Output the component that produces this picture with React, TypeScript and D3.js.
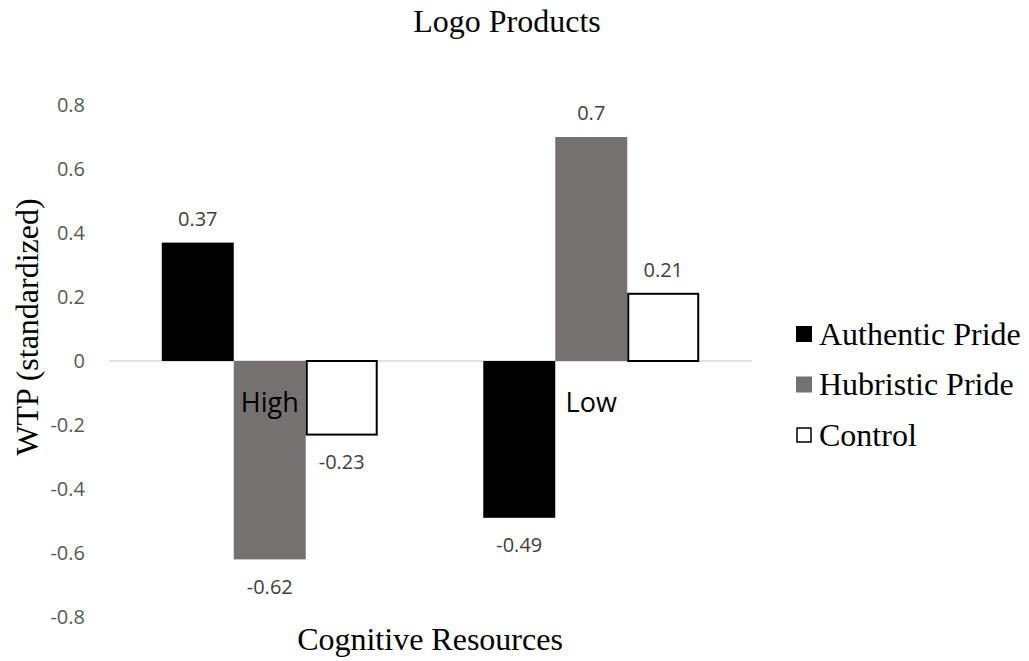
import React from "react";
import * as d3 from "d3";

const categories = ["High", "Low"];
const seriesNames = ["Authentic Pride", "Hubristic Pride", "Control"];
const authentic = [0.37, -0.49];
const hubristic = [-0.62, 0.7];
const control = [-0.23, 0.21];
const yTicks = [0.8, 0.6, 0.4, 0.2, 0, -0.2, -0.4, -0.6, -0.8];

const fills = ["#000000", "#767171", "#ffffff"];
const strokes = ["none", "none", "#000000"];

const W = 1029;
const H = 661;
const serif = "'Liberation Serif', 'Times New Roman', serif";
const sans = "'Open Sans', 'Noto Sans', sans-serif";

// plain hyphen-minus, as in the spreadsheet labels
const fmt = (v: number) => String(v);

export default function App() {
  const series = [authentic, hubristic, control];
  const y = d3.scaleLinear().domain([-0.8, 0.8]).range([617, 105]);
  const x0 = d3.scaleBand<string>().domain(categories).range([109, 752]).padding(0);
  const x1 = d3
    .scaleBand<string>()
    .domain(seriesNames)
    .range([0, x0.bandwidth()])
    .paddingInner(0)
    .paddingOuter(0.733);

  return (
    <svg
      width={W}
      height={H}
      style={{ position: "absolute", left: 0, top: 0, background: "#fff" }}
    >
      <text x={507} y={32} textAnchor="middle" fontFamily={serif} fontSize={32} fill="#000">
        Logo Products
      </text>

      {yTicks.map((t) => (
        <text
          key={t}
          x={85}
          y={y(t)}
          dy="0.36em"
          textAnchor="end"
          fontFamily={sans}
          fontSize={20}
          fill="#595959"
        >
          {fmt(t)}
        </text>
      ))}

      <line x1={109} x2={752} y1={y(0)} y2={y(0)} stroke="#d9d9d9" strokeWidth={1.5} />

      {categories.map((c, ci) =>
        series.map((vals, si) => {
          const v = vals[ci];
          const bx = (x0(c) as number) + (x1(seriesNames[si]) as number);
          const bw = x1.bandwidth();
          const top = Math.min(y(v), y(0));
          const h = Math.abs(y(v) - y(0));
          const inset = strokes[si] === "none" ? 0 : 1;
          return (
            <g key={c + si}>
              <rect
                x={bx + inset}
                y={top}
                width={bw - inset * 2}
                height={h}
                fill={fills[si]}
                stroke={strokes[si]}
                strokeWidth={2}
              />
              <text
                x={bx + bw / 2}
                y={v >= 0 ? y(v) - 24 : y(v) + 27}
                dy="0.36em"
                textAnchor="middle"
                fontFamily={sans}
                fontSize={20}
                fill="#404040"
              >
                {fmt(v)}
              </text>
            </g>
          );
        })
      )}

      {categories.map((c) => (
        <text
          key={c}
          x={(x0(c) as number) + x0.bandwidth() / 2}
          y={412}
          textAnchor="middle"
          fontFamily={sans}
          fontSize={27}
          fill="#000"
        >
          {c}
        </text>
      ))}

      <text
        transform={`translate(38, 327) rotate(-90)`}
        textAnchor="middle"
        fontFamily={serif}
        fontSize={32}
        fill="#000"
      >
        WTP (standardized)
      </text>

      <text x={430} y={650} textAnchor="middle" fontFamily={serif} fontSize={32} fill="#000">
        Cognitive Resources
      </text>

      {seriesNames.map((s, i) => (
        <g key={s} transform={`translate(796, ${334 + i * 50.5})`}>
          <rect
            x={i === 2 ? 1 : 0}
            y={-8 + (i === 2 ? 1 : 0)}
            width={i === 2 ? 14 : 16}
            height={i === 2 ? 14 : 16}
            fill={fills[i]}
            stroke={strokes[i]}
            strokeWidth={1.5}
          />
          <text x={23} y={0} dy="0.33em" fontFamily={serif} fontSize={32} fill="#000">
            {s}
          </text>
        </g>
      ))}
    </svg>
  );
}
